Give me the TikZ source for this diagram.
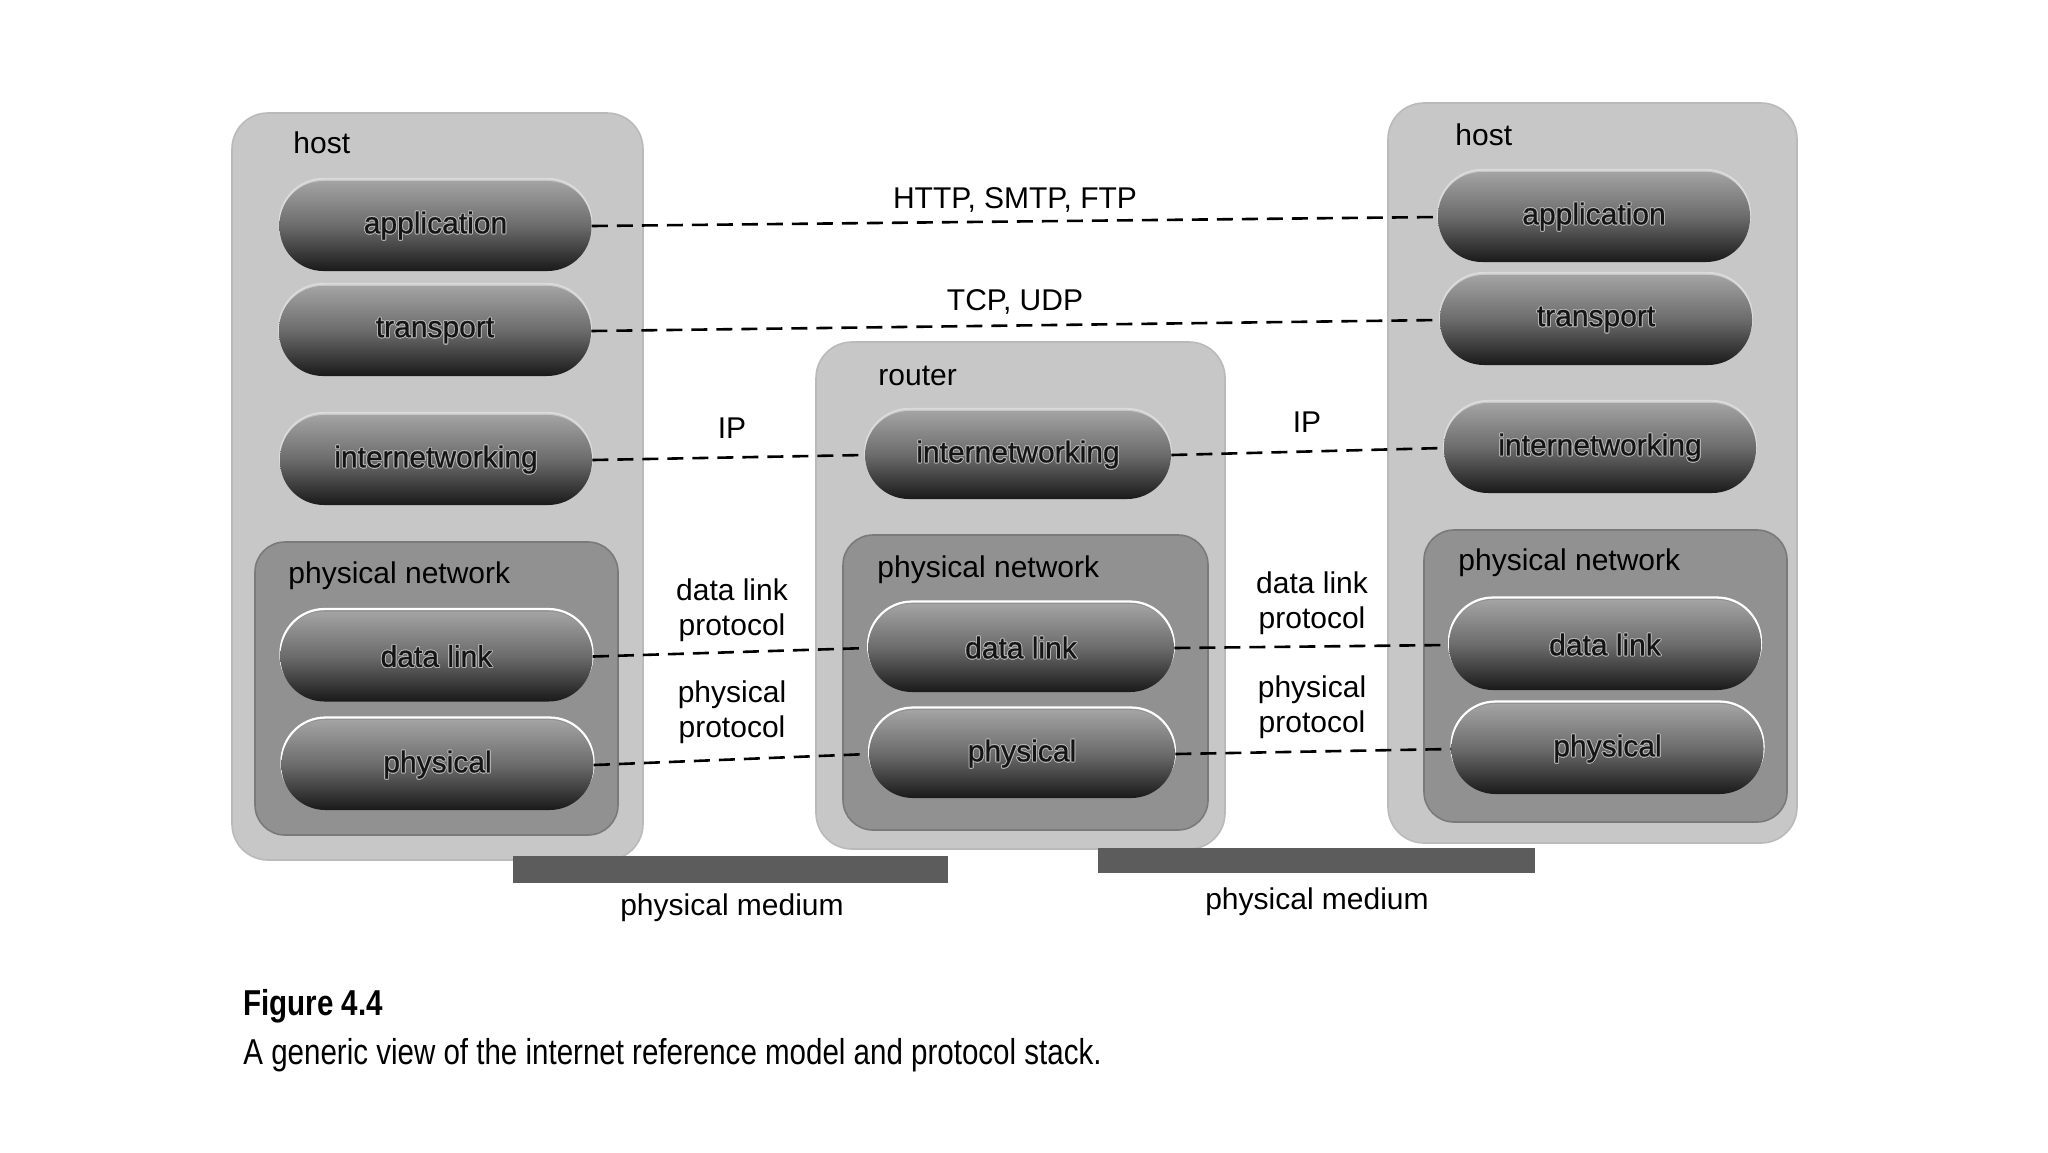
\documentclass[tikz,border=0pt]{standalone}
\usepackage{fontspec}
\setmainfont{Liberation Sans}
\newfontfamily\capfont[FakeStretch=0.82]{Liberation Sans}
\newfontfamily\pillfont[FakeBold=0.6]{Liberation Sans}
\usepackage[copies]{contour}
\contourlength{0.45pt}
\contournumber{16}
\newcommand\labfont{\fontsize{15}{17.5}\selectfont}
\newcommand\pilltext[1]{\contour{black!30}{#1}}
\begin{document}
\begin{tikzpicture}[x=0.5pt,y=-0.5pt,
  outerbox/.style={rectangle, rounded corners=18pt, fill=black!22, draw=black!27, line width=0.8pt, inner sep=0pt},
  netbox/.style={rectangle, rounded corners=15pt, fill=black!43, draw=black!52, line width=0.8pt, inner sep=0pt},
  pill/.style={rectangle, rounded corners=22pt, minimum width=156pt, minimum height=45pt,
    top color=black!36, bottom color=black!90, middle color=black!58,
    text=black!92, font=\pillfont\labfont, inner sep=0pt,
    preaction={draw=black!14, line width=0.9pt, transform canvas={yshift=1.1pt}}},
  hipill/.style={pill, preaction={draw=white, line width=1pt, transform canvas={yshift=1.3pt}}},
  rpill/.style={pill, minimum width=153pt, minimum height=44pt},
  rhipill/.style={hipill, minimum width=153pt, minimum height=44pt},
  lab/.style={font=\labfont, inner sep=0pt, text=black},
  protolab/.style={lab, align=center},
  medium/.style={rectangle, fill=black!64, inner sep=0pt},
  link/.style={dash pattern=on 8pt off 4.5pt, line width=1.3pt, black}]
\fill[white] (0,0) rectangle (2048,1152);
\useasboundingbox (0,0) rectangle (2048,1152);

% outer boxes
\node[outerbox, minimum width=205.5pt, minimum height=373.5pt] (hostL) at (437.5,486.5) {};
\node[outerbox, minimum width=204.5pt, minimum height=253.5pt] (router) at (1020.5,595.5) {};
\node[outerbox, minimum width=204.5pt, minimum height=370pt] (hostR) at (1592.5,473) {};

% physical network boxes
\node[netbox, minimum width=181.5pt, minimum height=146.5pt] (netL) at (436.5,688.5) {};
\node[netbox, minimum width=182.5pt, minimum height=147.5pt] (netM) at (1025.5,682.5) {};
\node[netbox, minimum width=181.5pt, minimum height=146pt] (netR) at (1605.5,676) {};

% box labels
\node[lab, anchor=base west] (hostLlab) at (293,153) {host};
\node[lab, anchor=base west] (hostRlab) at (1455,145) {host};
\node[lab, anchor=base west] (routerlab) at (878,385) {router};
\node[lab, anchor=base west] (netLlab) at (288,583) {physical network};
\node[lab, anchor=base west] (netMlab) at (877,577) {physical network};
\node[lab, anchor=base west] (netRlab) at (1458,570) {physical network};

% pills left host
\node[pill] (appL) at (435.5,226) {\pilltext{application}};
\node[pill] (trL) at (435,331) {\pilltext{transport}};
\node[pill] (inL) at (436,460) {\pilltext{internetworking}};
\node[hipill] (dlL) at (436.5,656.5) {\pilltext{data link}};
\node[hipill] (phL) at (437.5,765) {\pilltext{physical}};
% pills router
\node[rpill] (inM) at (1018,455) {\pilltext{internetworking}};
\node[rhipill] (dlM) at (1021,648) {\pilltext{data link}};
\node[rhipill] (phM) at (1022,754) {\pilltext{physical}};
% pills right host
\node[pill] (appR) at (1594,217) {\pilltext{application}};
\node[pill] (trR) at (1596,320) {\pilltext{transport}};
\node[pill] (inR) at (1600,448) {\pilltext{internetworking}};
\node[hipill] (dlR) at (1605,645) {\pilltext{data link}};
\node[hipill] (phR) at (1607.5,749) {\pilltext{physical}};

% dashed protocol links
\draw[link] (appL.east) -- (appR.west);
\draw[link] (trL.east) -- (trR.west);
\draw[link] (inL.east) -- (inM.west);
\draw[link] (inM.east) -- (inR.west);
\draw[link] (dlL.east) -- (dlM.west);
\draw[link] (dlM.east) -- (dlR.west);
\draw[link] (phL.east) -- (phM.west);
\draw[link] (phM.east) -- (phR.west);

% protocol labels
\node[lab] (http) at (1015,200) {HTTP, SMTP, FTP};
\node[lab] (tcp) at (1015,302) {TCP, UDP};
\node[lab] (ipL) at (732,428) {IP};
\node[lab] (ipR) at (1307,422) {IP};
\node[protolab] (dlpL) at (732,610) {data link\\protocol};
\node[protolab] (dlpR) at (1312,603) {data link\\protocol};
\node[protolab] (phpL) at (732,712) {physical\\protocol};
\node[protolab] (phpR) at (1312,707) {physical\\protocol};

% physical media
\node[medium, minimum width=217.5pt, minimum height=13.5pt] (medL) at (730.5,869.5) {};
\node[medium, minimum width=218.5pt, minimum height=12.5pt] (medR) at (1316.5,860.5) {};
\node[lab] (medLlab) at (732,908) {physical medium};
\node[lab] (medRlab) at (1317,902) {physical medium};

% caption
\node[anchor=base west, inner sep=0pt, font=\capfont\bfseries\fontsize{18}{20}\selectfont] (fig) at (243,1015) {Figure 4.4};
\node[anchor=base west, inner sep=0pt, font=\capfont\fontsize{18}{20}\selectfont] (cap) at (243,1064) {A generic view of the internet reference model and protocol stack.};
\end{tikzpicture}
\end{document}
